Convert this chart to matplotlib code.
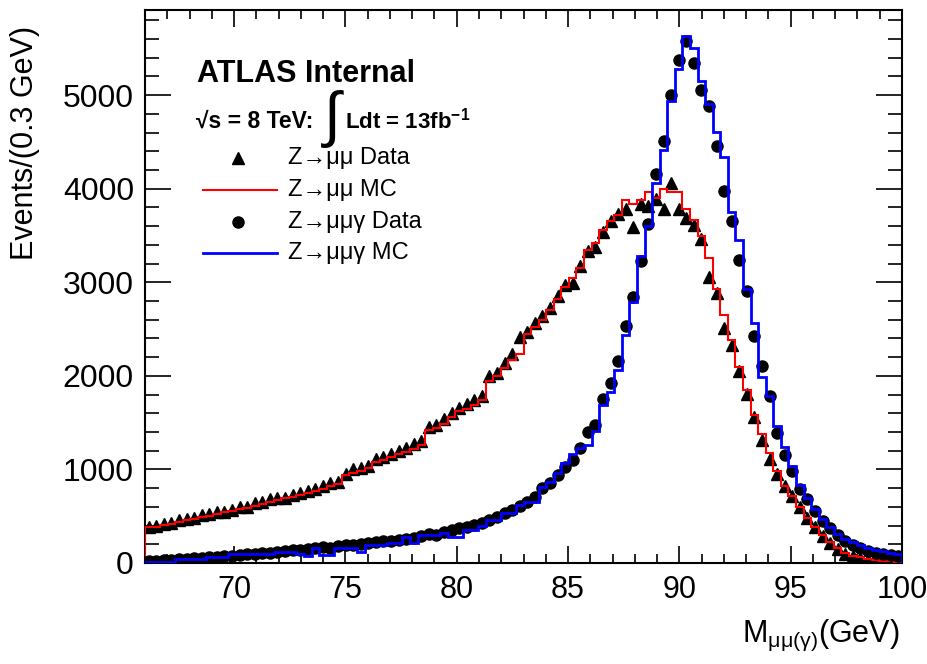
import numpy as np
import matplotlib.pyplot as plt
from matplotlib.lines import Line2D
from matplotlib.ticker import MultipleLocator

plt.rcParams['font.family'] = ['Liberation Sans', 'DejaVu Sans']
plt.rcParams['mathtext.fontset'] = 'custom'
plt.rcParams['mathtext.rm'] = 'Liberation Sans'
plt.rcParams['mathtext.it'] = 'Liberation Sans:italic'
plt.rcParams['mathtext.bf'] = 'Liberation Sans:bold'

# 100 bins between 66 and 100 GeV
edges = np.linspace(66, 100, 101)
centers = 0.5 * (edges[1:] + edges[:-1])

mumu_data = [390, 400, 420, 430, 455, 470, 480, 510, 520, 540,
             550, 570, 600, 600, 640, 650, 680, 690, 700, 730,
             750, 770, 790, 820, 850, 870, 950, 1000, 1010, 1040,
             1110, 1130, 1170, 1200, 1230, 1270, 1300, 1450, 1480, 1540,
             1600, 1660, 1700, 1740, 1780, 2000, 2030, 2140, 2230, 2420,
             2470, 2560, 2640, 2720, 2850, 2970, 2990, 3170, 3335, 3375,
             3540, 3655, 3730, 3785, 3595, 3840, 3820, 3895, 3785, 4060,
             3785, 3690, 3610, 3460, 3056, 2888, 2514, 2327, 2047, 1804,
             1561, 1318, 1113, 946, 820, 720, 600, 480, 380, 290,
             210, 150, 100, 70, 50, 35, 25, 18, 12, 10]

mumu_mc = [380, 390, 405, 420, 440, 455, 470, 490, 505, 520,
           540, 555, 575, 590, 610, 630, 650, 670, 690, 705,
           725, 745, 770, 790, 820, 840, 940, 960, 985, 1010,
           1080, 1100, 1130, 1160, 1190, 1220, 1260, 1420, 1440, 1490,
           1560, 1620, 1650, 1690, 1740, 1950, 2000, 2080, 2170, 2230,
           2450, 2520, 2600, 2700, 2820, 2950, 3050, 3150, 3350, 3420,
           3560, 3650, 3720, 3880, 3840, 3880, 3970, 3900, 4000, 3960,
           3960, 3780, 3670, 3500, 3260, 2925, 2650, 2380, 2100, 1850,
           1580, 1380, 1180, 980, 820, 720, 600, 480, 380, 300,
           220, 160, 110, 80, 60, 45, 35, 25, 20, 15]

mumug_data = [20, 25, 30, 35, 40, 45, 50, 55, 60, 65,
              70, 80, 85, 95, 100, 105, 110, 120, 125, 135,
              140, 150, 160, 170, 165, 180, 190, 195, 205, 210,
              220, 230, 240, 250, 260, 270, 290, 310, 300, 330,
              350, 370, 390, 410, 430, 460, 495, 530, 570, 610,
              655, 710, 800, 850, 940, 1030, 1100, 1225, 1400, 1480,
              1750, 1920, 2155, 2535, 2840, 3225, 3625, 4157, 4513, 5005,
              5380, 5580, 5345, 5054, 4886, 4456, 3971, 3654, 3243, 2906,
              2421, 2103, 1785, 1393, 1151, 983, 796, 680, 560, 450,
              370, 300, 240, 190, 160, 130, 110, 95, 85, 80]

mumug_mc = [15, 15, 15, 15, 40, 40, 40, 40, 65, 65,
            65, 95, 95, 95, 95, 95, 95, 115, 115, 115,
            100, 70, 155, 85, 85, 155, 155, 155, 120, 190,
            190, 190, 210, 210, 280, 210, 300, 300, 300, 317,
            283, 283, 356, 356, 392, 459, 459, 530, 530, 620,
            655, 655, 815, 868, 957, 1064, 1160, 1226, 1263, 1412,
            1692, 1823, 2065, 2439, 2794, 3280, 3597, 4064, 4412, 4942,
            5278, 5634, 5502, 5147, 4905, 4606, 4344, 3747, 3447, 2925,
            2570, 1991, 1785, 1468, 1244, 1038, 833, 700, 580, 470,
            380, 310, 260, 220, 190, 160, 140, 125, 110, 100]

W, H = 927, 664
fig = plt.figure(figsize=(W / 100, H / 100), dpi=100)
ax = fig.add_axes([145 / W, 101 / H, 757 / W, 553 / H])

ax.plot(centers, mumu_data, ls='none', marker='^', color='k', ms=9, zorder=3)
ax.stairs(mumu_mc, edges, color='red', lw=1.5, zorder=4)
ax.plot(centers, mumug_data, ls='none', marker='o', color='k', ms=8, zorder=5)
ax.stairs(mumug_mc, edges, color='blue', lw=2, zorder=6)

ax.set_xlim(66, 100)
ax.set_ylim(0, 5910)
ax.xaxis.set_major_locator(MultipleLocator(5))
ax.xaxis.set_minor_locator(MultipleLocator(1))
ax.yaxis.set_major_locator(MultipleLocator(1000))
ax.yaxis.set_minor_locator(MultipleLocator(200))
ax.tick_params(axis='both', which='both', direction='in', top=True, right=True, width=1.2)
ax.tick_params(axis='x', which='major', length=12, pad=9, labelsize=22)
ax.tick_params(axis='x', which='minor', length=6.5)
ax.tick_params(axis='y', which='major', length=19, pad=8, labelsize=23)
ax.tick_params(axis='y', which='minor', length=10)
for s in ax.spines.values():
    s.set_linewidth(1.5)

def fx(x):
    return x / W

def fy(y):
    return 1 - y / H

fig.text(fx(25), fy(143), 'Events/(0.3 GeV)', rotation=90, ha='center', va='center', fontsize=22)
fig.text(fx(900), fy(635), r'M$_{\mathrm{μμ(γ)}}$(GeV)', ha='right', va='center', fontsize=22)

fig.text(fx(197), fy(74), 'ATLAS Internal', ha='left', va='center', fontsize=22, fontweight='bold')
fig.text(fx(196), fy(121), '√s = 8 TeV:', ha='left', va='center', fontsize=16.5, fontweight='bold')
fig.text(fx(324), fy(119), '∫', ha='left', va='center', fontsize=44)
fig.text(fx(345), fy(121), r'Ldt = 13fb$^{\mathbf{-1}}$', ha='left', va='center', fontsize=16, fontweight='bold')

rows = [158, 190, 222, 253]
labels = ['Z→μμ Data', 'Z→μμ MC', 'Z→μμγ Data', 'Z→μμγ MC']
fig.add_artist(Line2D([fx(238)], [fy(rows[0])], ls='none', marker='^', color='k', ms=9))
fig.add_artist(Line2D([fx(203), fx(277)], [fy(rows[1])] * 2, color='red', lw=1.5))
fig.add_artist(Line2D([fx(238)], [fy(rows[2])], ls='none', marker='o', color='k', ms=8))
fig.add_artist(Line2D([fx(203), fx(277)], [fy(rows[3])] * 2, color='blue', lw=2))
for r, lab in zip(rows, labels):
    fig.text(fx(288), fy(r), lab, ha='left', va='center', fontsize=17)

fig.savefig('out.png', dpi=100)
